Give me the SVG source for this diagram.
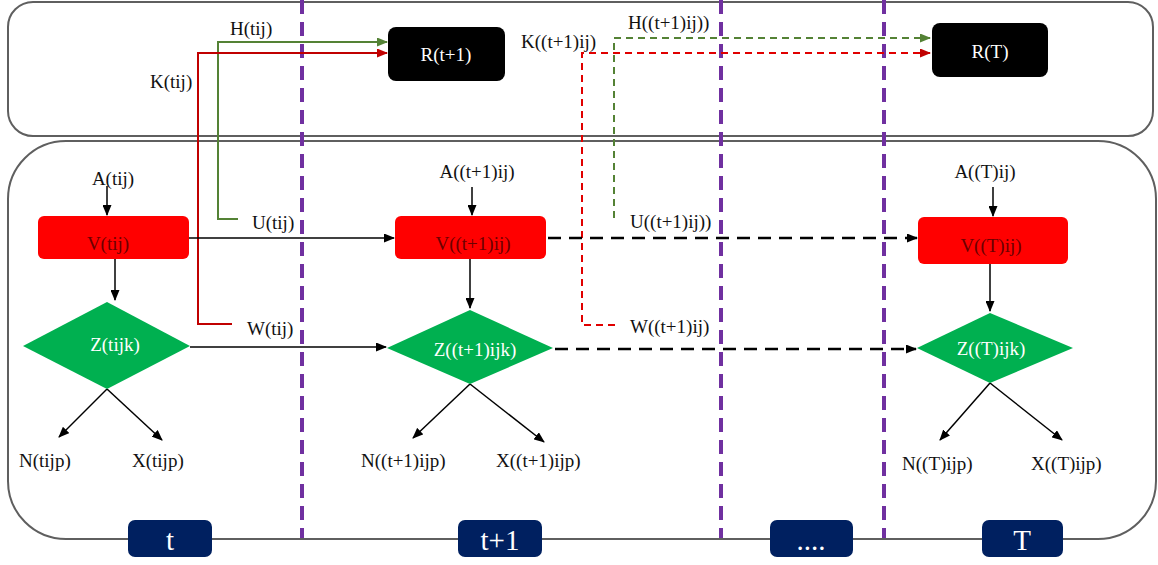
<svg xmlns="http://www.w3.org/2000/svg" width="1158" height="565" viewBox="0 0 1158 565">
<defs>
<marker id="ab" markerUnits="userSpaceOnUse" markerWidth="11" markerHeight="9" refX="10" refY="4.5" orient="auto"><path d="M0,0 L11,4.5 L0,9 z" fill="#000"/></marker>
<marker id="ag" markerUnits="userSpaceOnUse" markerWidth="11" markerHeight="9" refX="10" refY="4.5" orient="auto"><path d="M0,0 L11,4.5 L0,9 z" fill="#548235"/></marker>
<marker id="ar" markerUnits="userSpaceOnUse" markerWidth="11" markerHeight="9" refX="10" refY="4.5" orient="auto"><path d="M0,0 L11,4.5 L0,9 z" fill="#C00000"/></marker>
<style>
text{font-family:"Liberation Serif","Times New Roman",serif;font-size:19px;fill:#111}
.frame{fill:#fff;stroke:#5f5f5f;stroke-width:2}
.div{stroke:#7030A0;stroke-width:4;stroke-dasharray:14 8;fill:none}
.rnode{fill:#000}
.rt{fill:#fff;text-anchor:middle}
.vnode{fill:#FF0000}
.vt{fill:#6b0000;text-anchor:middle}
.znode{fill:#00B050}
.zt{fill:#fff;text-anchor:middle}
.tab{fill:#002060}
.tt{fill:#fff;text-anchor:middle;font-size:29px}
.c{text-anchor:middle}
.sb{stroke:#000;stroke-width:1.5;fill:none;marker-end:url(#ab)}
.db{stroke:#000;stroke-width:2.5;stroke-dasharray:13 8;fill:none;marker-end:url(#ab)}
.sg{stroke:#548235;stroke-width:2;fill:none;marker-end:url(#ag)}
.sr{stroke:#C00000;stroke-width:2;fill:none;marker-end:url(#ar)}
.dg{stroke:#548235;stroke-width:2;stroke-dasharray:7 5;fill:none;marker-end:url(#ag)}
.dr{stroke:#E00000;stroke-width:2;stroke-dasharray:7 5;fill:none;marker-end:url(#ar)}
</style>
</defs>
<rect width="1158" height="565" fill="#fff"/>
<g id="frames">
<rect class="frame" x="8" y="2" width="1145" height="134" rx="25"/>
<rect class="frame" x="8" y="141" width="1148" height="398" rx="58"/>
</g>
<g id="dividers">
<line class="div" x1="302" y1="0" x2="302" y2="538"/>
<line class="div" x1="721" y1="0" x2="721" y2="538"/>
<line class="div" x1="884" y1="0" x2="884" y2="538"/>
</g>
<g id="connectors">
<path class="sg" d="M238,219 H218 V42 H387"/>
<path class="sr" d="M232,324 H198 V53 H387"/>
<path class="dg" d="M614,218 V38 H930"/>
<path class="dr" d="M615,325 H582 V53 H930"/>
<line class="sb" x1="107" y1="186" x2="107" y2="215"/>
<line class="sb" x1="472" y1="187" x2="472" y2="215"/>
<line class="sb" x1="993" y1="187" x2="993" y2="216"/>
<line class="sb" x1="115" y1="259" x2="115" y2="300"/>
<line class="sb" x1="470" y1="259" x2="470" y2="308"/>
<line class="sb" x1="990" y1="264" x2="990" y2="311"/>
<line class="sb" x1="189" y1="238" x2="394" y2="238"/>
<line class="db" x1="548" y1="238" x2="917" y2="238"/>
<line class="sb" x1="190" y1="347" x2="386" y2="347"/>
<line class="db" x1="555" y1="349" x2="916" y2="349"/>
<line class="sb" x1="107" y1="389" x2="59" y2="437"/>
<line class="sb" x1="107" y1="389" x2="162" y2="440"/>
<line class="sb" x1="470" y1="384" x2="413" y2="438"/>
<line class="sb" x1="470" y1="384" x2="544" y2="442"/>
<line class="sb" x1="990" y1="383" x2="940" y2="440"/>
<line class="sb" x1="990" y1="383" x2="1062" y2="440"/>
</g>
<g id="edge-labels">
<text x="230" y="35">H(tij)</text>
<text x="150" y="88">K(tij)</text>
<text x="252" y="229">U(tij)</text>
<text x="247" y="335">W(tij)</text>
<text x="628" y="29">H((t+1)ij))</text>
<text x="521" y="48">K((t+1)ij)</text>
<text x="630" y="228">U((t+1)ij))</text>
<text x="630" y="333">W((t+1)ij)</text>
</g>
<g id="R-t1"><rect class="rnode" x="388" y="27" width="117" height="54" rx="8"/><text class="rt" x="446" y="61">R(t+1)</text></g>
<g id="R-T"><rect class="rnode" x="932" y="23" width="116" height="54" rx="8"/><text class="rt" x="990" y="58">R(T)</text></g>
<g id="A-t"><text class="c" x="113" y="185">A(tij)</text></g>
<g id="A-t1"><text class="c" x="477" y="178">A((t+1)ij)</text></g>
<g id="A-T"><text class="c" x="985" y="178">A((T)ij)</text></g>
<g id="V-t"><rect class="vnode" x="38" y="216" width="151" height="43" rx="6"/><text class="vt" x="108" y="250">V(tij)</text></g>
<g id="V-t1"><rect class="vnode" x="395" y="216" width="151" height="43" rx="6"/><text class="vt" x="473" y="250">V((t+1)ij)</text></g>
<g id="V-T"><rect class="vnode" x="918" y="217" width="150" height="47" rx="6"/><text class="vt" x="991" y="252">V((T)ij)</text></g>
<g id="Z-t"><polygon class="znode" points="107,302 190,346 107,389 23,346"/><text class="zt" x="115" y="351">Z(tijk)</text></g>
<g id="Z-t1"><polygon class="znode" points="470,310 553,348 470,384 387,348"/><text class="zt" x="475" y="356">Z((t+1)ijk)</text></g>
<g id="Z-T"><polygon class="znode" points="990,313 1073,348 990,383 917,348"/><text class="zt" x="991" y="355">Z((T)ijk)</text></g>
<g id="N-t"><text x="19" y="467">N(tijp)</text></g>
<g id="X-t"><text x="132" y="467">X(tijp)</text></g>
<g id="N-t1"><text x="361" y="467">N((t+1)ijp)</text></g>
<g id="X-t1"><text x="496" y="467">X((t+1)ijp)</text></g>
<g id="N-T"><text x="902" y="470">N((T)ijp)</text></g>
<g id="X-T"><text x="1031" y="470">X((T)ijp)</text></g>
<g id="tab-t"><rect class="tab" x="128" y="520" width="84" height="37" rx="7"/><text class="tt" x="170" y="550">t</text></g>
<g id="tab-t1"><rect class="tab" x="458" y="520" width="84" height="37" rx="7"/><text class="tt" x="500" y="550">t+1</text></g>
<g id="tab-dots"><rect class="tab" x="770" y="520" width="83" height="37" rx="7"/><text class="tt" x="811" y="550">....</text></g>
<g id="tab-T"><rect class="tab" x="982" y="520" width="81" height="37" rx="7"/><text class="tt" x="1022" y="550">T</text></g>
</svg>
